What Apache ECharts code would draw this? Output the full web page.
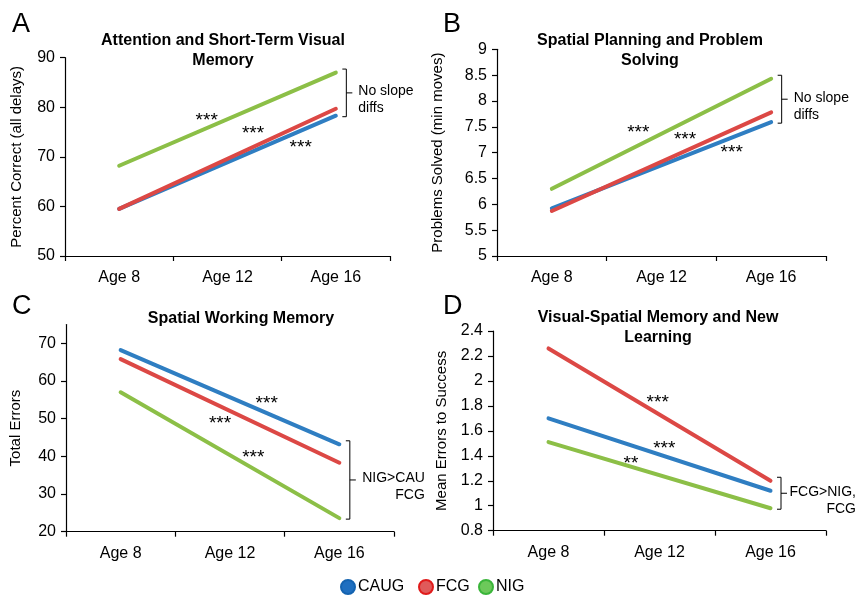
<!DOCTYPE html>
<html><head><meta charset="utf-8">
<script src="https://cdn.jsdelivr.net/npm/echarts@6/dist/echarts.min.js"></script>
<style>html,body{margin:0;padding:0;background:#fff}#c{width:858px;height:598px}</style>
</head><body><div id="c"></div>
<script>
// ---------- data ----------
const ages = ['Age 8', 'Age 12', 'Age 16'];
const groups = ['CAUG', 'FCG', 'NIG'];

// Panel A: Attention and Short-Term Visual Memory (percent correct)
const aCAUG = [59.5, null, 78.3];
const aFCG  = [59.5, null, 79.7];
const aNIG  = [68.2, null, 87.0];
// Panel B: Spatial Planning and Problem Solving (problems solved)
const bCAUG = [5.92, null, 7.59];
const bFCG  = [5.87, null, 7.78];
const bNIG  = [6.30, null, 8.43];
// Panel C: Spatial Working Memory (total errors)
const cCAUG = [68.2, null, 43.2];
const cFCG  = [65.8, null, 38.3];
const cNIG  = [57.0, null, 23.6];
// Panel D: Visual-Spatial Memory and New Learning (mean errors to success)
const dCAUG = [1.70, null, 1.12];
const dFCG  = [2.26, null, 1.20];
const dNIG  = [1.51, null, 0.98];

const panelLetters = ['A', 'B', 'C', 'D'];
const panelTitles = ['Attention and Short-Term Visual\nMemory', 'Spatial Planning and Problem\nSolving', 'Spatial Working Memory', 'Visual-Spatial Memory and New\nLearning'];
const yNames = ['Percent Correct (all delays)', 'Problems Solved (min moves)', 'Total Errors', 'Mean Errors to Success'];
const yMin = [50, 5, 20, 0.8];
const yMax = [90, 9, 75, 2.4];
const yInterval = [10, 0.5, 10, 0.2];
const cTicks = [20, 30, 40, 50, 60, 70];
const bracketTexts = [['No slope', 'diffs'], ['No slope', 'diffs'], ['NIG>CAU', 'FCG'], ['FCG>NIG,', 'FCG']];
const stars = [['***', '***', '***'], ['***', '***', '***'], ['***', '***', '***'], ['***', '***', '**']];

const panelData = [[aCAUG, aFCG, aNIG], [bCAUG, bFCG, bNIG], [cCAUG, cFCG, cNIG], [dCAUG, dFCG, dNIG]];

// ---------- styles / layout ----------
const FONT = '"Liberation Sans", Arial, Helvetica, sans-serif';
const lineColors = ['#2f7ec2', '#dc4845', '#8cbf47'];
const legendFill = ['#1f6fc0', '#e05a5a', '#6cc95a'];
const legendBorder = ['#1463b0', '#e01b1b', '#3ab53a'];
const legendLeft = [340, 418, 478];

const grids = [
  { left: 65, top: 57.7, width: 325, height: 198.3 },
  { left: 497, top: 49.3, width: 329, height: 206.7 },
  { left: 66, top: 324.5, width: 328, height: 207.2 },
  { left: 493, top: 331, width: 333, height: 199.7 }
];
const nameGaps = [41, 52, 43, 44];
const titlePos = [[223, 31], [650, 31], [241, 308.5], [658, 307.5]];
const letterPos = [[12, 25], [443, 25], [12, 307], [443, 307]];
const starPos = [
  [[206.7, 116.7], [253, 130], [300.7, 143.3]],
  [[638.3, 128.3], [685, 136], [731.7, 148.3]],
  [[266.7, 399.3], [220, 419.3], [253.3, 454]],
  [[657.7, 398.3], [664.3, 445], [631, 460]]
];
const starOrder = [[2, 1, 0], [2, 1, 0], [0, 1, 2], [1, 0, 2]];

const chart = echarts.init(document.getElementById('c'), null, { renderer: 'canvas' });

const xAxes = [], yAxes = [], series = [];
grids.forEach((g, i) => {
  xAxes.push({
    type: 'category', gridIndex: i, data: ages, boundaryGap: true,
    axisLine: { lineStyle: { color: '#000', width: 1.2 } },
    axisTick: { show: true, inside: false, length: 5, lineStyle: { color: '#000', width: 1.2 } },
    axisLabel: { color: '#000', fontSize: 16, fontFamily: FONT, margin: 14 },
    splitLine: { show: false }
  });
  const ya = {
    type: 'value', gridIndex: i, min: yMin[i], max: yMax[i], interval: yInterval[i],
    name: yNames[i], nameLocation: 'middle', nameGap: nameGaps[i],
    nameTextStyle: { color: '#000', fontSize: 15, fontFamily: FONT },
    axisLine: { show: true, lineStyle: { color: '#000', width: 1.2 } },
    axisTick: { show: true, inside: false, length: 5, lineStyle: { color: '#000', width: 1.2 } },
    axisLabel: { color: '#000', fontSize: 16, fontFamily: FONT, margin: 10 },
    splitLine: { show: false }
  };
  if (i === 2) {
    ya.axisLabel.customValues = cTicks;
    ya.axisTick.customValues = cTicks;
  }
  yAxes.push(ya);
  groups.forEach((name, k) => {
    series.push({
      name: name, type: 'line', xAxisIndex: i, yAxisIndex: i,
      data: panelData[i][k], connectNulls: true, symbol: 'none',
      color: lineColors[k],
      lineStyle: { color: lineColors[k], width: 4, cap: 'round' },
      silent: true, animation: false
    });
  });
});

chart.setOption({
  animation: false,
  backgroundColor: '#fff',
  textStyle: { fontFamily: FONT },
  grid: grids.map(g => Object.assign({ containLabel: false }, g)),
  xAxis: xAxes,
  yAxis: yAxes,
  legend: groups.map((n, k) => ({
    left: legendLeft[k], top: 579, icon: 'circle', itemWidth: 14, itemHeight: 14, padding: 0,
    textStyle: { color: '#000', fontSize: 16, fontFamily: FONT, padding: [0, 0, 0, -2] },
    data: [{ name: n, itemStyle: { color: legendFill[k], borderColor: legendBorder[k], borderWidth: 2 } }]
  })),
  series: series
});

// ---------- annotations ----------
const elements = [];
panelLetters.forEach((L, i) => {
  elements.push({ type: 'text', x: letterPos[i][0], y: letterPos[i][1], silent: true,
    style: { text: L, font: '27px ' + FONT, fill: '#000', align: 'left', verticalAlign: 'middle' } });
  elements.push({ type: 'text', x: titlePos[i][0], y: titlePos[i][1], silent: true,
    style: { text: panelTitles[i], font: 'bold 16px ' + FONT, fill: '#000', align: 'center', verticalAlign: 'top', lineHeight: 20 } });
  starOrder[i].forEach((s, j) => {
    elements.push({ type: 'text', x: starPos[i][j][0], y: starPos[i][j][1] + 4, silent: true,
      style: { text: stars[i][j], font: '19px ' + FONT, fill: '#000', align: 'center', verticalAlign: 'middle' } });
  });
  // bracket from line end points
  const ends = panelData[i].map(arr => chart.convertToPixel({ gridIndex: i }, [2, arr[2]]));
  const ys = ends.map(p => p[1]);
  const top = Math.min.apply(null, ys) - 3.5;
  const bot = Math.max.apply(null, ys) + 1;
  const bx = ends[0][0] + 10.5;
  const mid = (top + bot) / 2;
  elements.push({ type: 'polyline', silent: true,
    shape: { points: [[bx - 4, top], [bx, top], [bx, bot], [bx - 4, bot]] },
    style: { stroke: '#000', lineWidth: 1, fill: null } });
  elements.push({ type: 'line', silent: true,
    shape: { x1: bx, y1: mid, x2: bx + 6, y2: mid },
    style: { stroke: '#000', lineWidth: 1 } });
  const right = i >= 2;
  elements.push({ type: 'text', x: right ? bx + 75 : bx + 12, y: mid - 10, silent: true,
    style: { text: bracketTexts[i].join('\n'), font: '14px ' + FONT, fill: '#000', align: right ? 'right' : 'left', verticalAlign: 'top', lineHeight: 17 } });
});
chart.setOption({ graphic: { elements: elements } });
</script>
</body></html>
